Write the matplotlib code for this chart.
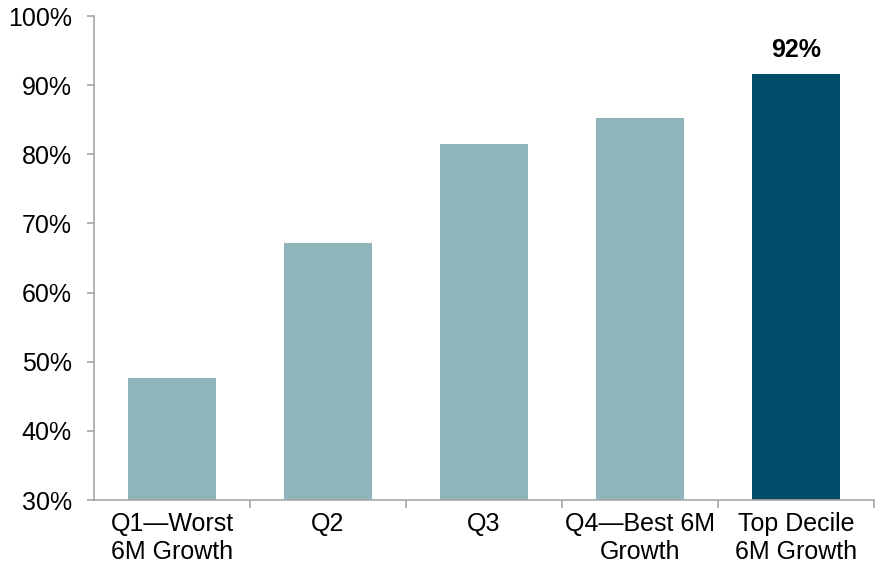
import numpy as np
import matplotlib.pyplot as plt
from matplotlib.ticker import FuncFormatter, FixedLocator

categories = ["Q1\u2014Worst\n6M Growth", "Q2", "Q3", "Q4\u2014Best 6M\nGrowth", "Top Decile\n6M Growth"]
values = [47.6, 67.2, 81.5, 85.2, 91.6]
highlight = "Top Decile\n6M Growth"
highlight_label = "92%"

light = "#8FB5BA"
dark = "#004C69"
axis_gray = "#A6A6A6"

plt.rcParams['font.family'] = ['Liberation Sans', 'DejaVu Sans']

fig = plt.figure(figsize=(8.76, 5.65), dpi=100)
ax = fig.add_axes([94 / 876, 65 / 565, 780 / 876, 484 / 565])

x = np.arange(len(categories))
colors = [dark if c == highlight else light for c in categories]
bars = ax.bar(x, values, width=0.57, color=colors, bottom=0)

hi = categories.index(highlight)
ax.annotate(highlight_label, (x[hi], values[hi]), xytext=(0, 8.5), textcoords="offset points",
            ha="center", va="bottom", fontsize=18, fontweight="bold")

ax.set_ylim(30, 100)
ax.set_xlim(-0.5, len(categories) - 0.5)
ax.set_yticks(np.arange(30, 101, 10))
ax.yaxis.set_major_formatter(FuncFormatter(lambda v, p: f"{v:.0f}%"))

ax.set_xticks(x)
ax.set_xticklabels(categories, fontsize=18, linespacing=1.2)
ax.xaxis.set_minor_locator(FixedLocator(np.arange(0.5, len(categories), 1.0)))
ax.tick_params(axis="x", which="major", length=0, pad=8.5)
ax.tick_params(axis="x", which="minor", length=6, color=axis_gray, width=1.2)
ax.tick_params(axis="y", length=5, color=axis_gray, width=1.2, labelsize=18, pad=11)

for s in ["top", "right"]:
    ax.spines[s].set_visible(False)
for s in ["left", "bottom"]:
    ax.spines[s].set_color(axis_gray)
    ax.spines[s].set_linewidth(1.2)

fig.savefig("out.png", dpi=100)
